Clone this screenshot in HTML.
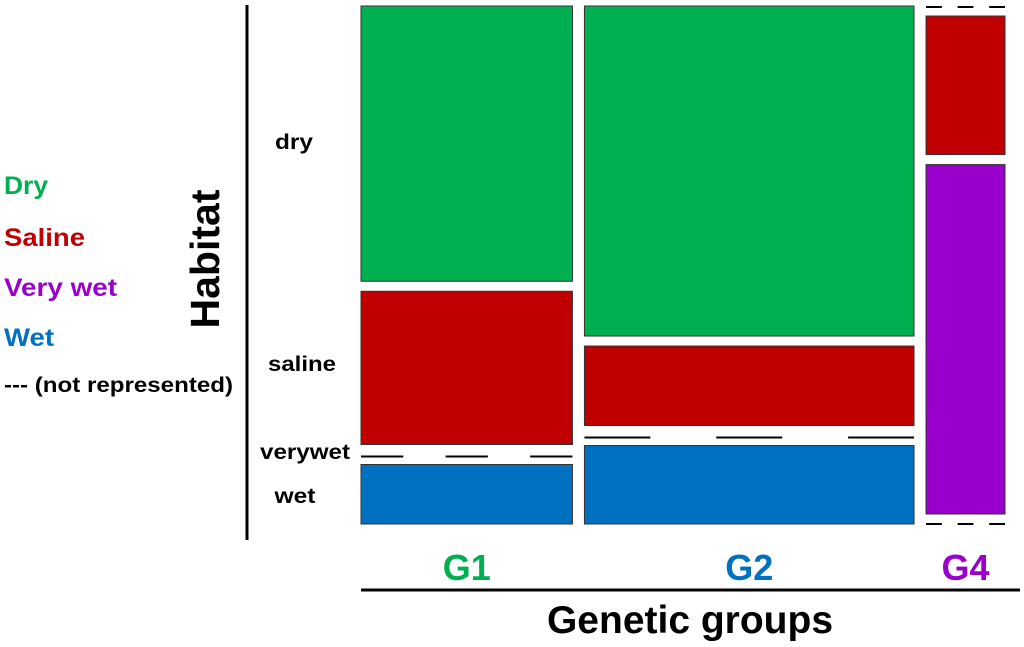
<!DOCTYPE html>
<html><head><meta charset="utf-8"><style>
body{margin:0;background:#fff;width:1024px;height:642px;overflow:hidden;font-family:"Liberation Sans",Arial,sans-serif;}
</style></head><body>
<svg id="chart" width="1024" height="642" xmlns="http://www.w3.org/2000/svg" font-family="Liberation Sans, Arial, sans-serif" font-weight="bold">
<g>
<text x="4" y="194" font-size="25" textLength="44" lengthAdjust="spacingAndGlyphs" fill="#00b050">Dry</text>
<text x="4" y="246" font-size="25" textLength="81" lengthAdjust="spacingAndGlyphs" fill="#c00000">Saline</text>
<text x="4" y="296" font-size="25" textLength="113" lengthAdjust="spacingAndGlyphs" fill="#9900cc">Very wet</text>
<text x="4" y="346" font-size="25" textLength="50" lengthAdjust="spacingAndGlyphs" fill="#0070c0">Wet</text>
<text x="4" y="392" font-size="21" textLength="229" lengthAdjust="spacingAndGlyphs" fill="#000">--- (not represented)</text>
</g>
<text transform="translate(219,259) rotate(-90)" text-anchor="middle" font-size="41" fill="#000">Habitat</text>
<line x1="247" y1="5" x2="247" y2="540" stroke="#000" stroke-width="3"/>
<line x1="361" y1="590" x2="1020" y2="590" stroke="#000" stroke-width="3"/>
<text x="690" y="633" text-anchor="middle" font-size="39" fill="#000">Genetic groups</text>
<g id="tiles"></g>
</svg>
<script>
const groups = ["G1", "G2", "G4"];
const habitats = ["dry", "saline", "verywet", "wet"];
const groupTotals = [34, 53, 12.7];
const dryVals = [273, 328, 0];
const salineVals = [152, 79, 138];
const verywetVals = [0, 0, 348];
const wetVals = [59, 78, 0];
const rowLabels = ["dry", "saline", "verywet", "wet"];
const habColors = ["#00b050", "#c00000", "#9900cc", "#0070c0"];
const groupColors = ["#00b050", "#0070c0", "#9900cc"];

const NS = "http://www.w3.org/2000/svg";
const X0 = 361, X1 = 1005, GAPX = 12, Y0 = 6, Y1 = 524, GAPY = 10;
const tiles = document.getElementById("tiles");
const series = [dryVals, salineVals, verywetVals, wetVals];
const sumT = groupTotals.reduce((a, b) => a + b, 0);
const usableW = (X1 - X0) - GAPX * (groups.length - 1);
const usableH = (Y1 - Y0) - GAPY * (habitats.length - 1);
function xScale(v) { return v / sumT * usableW; }
function mk(tag, attrs) { const e = document.createElementNS(NS, tag); for (const k in attrs) e.setAttribute(k, attrs[k]); tiles.appendChild(e); return e; }

let x = X0;
groups.forEach((g, gi) => {
  const w = xScale(groupTotals[gi]);
  const colTotal = series.reduce((a, s) => a + s[gi], 0);
  let y = Y0;
  habitats.forEach((h, hi) => {
    const v = series[hi][gi];
    if (v > 0) {
      const hh = v / colTotal * usableH;
      const r = mk("rect", { x: x, y: y, width: w, height: hh, fill: habColors[hi], stroke: "#333", "stroke-width": 1 });
      
      
      y += hh;
    } else {
      const ly = y + (hi === 0 ? 1 : (hi === habitats.length - 1 ? 0 : 2));
      const l = mk("line", { x1: x, x2: x + w, y1: ly, y2: ly, stroke: "#000", "stroke-width": 2, "stroke-dasharray": (w / 5) + " " + (w / 5) });
      
      
    }
    y += GAPY;
  });
  const t = mk("text", { x: x + w / 2, y: 580, "text-anchor": "middle", "font-size": 36, fill: groupColors[gi] });
  t.textContent = g;
  
  
  x += w + GAPX;
});

const rowY = [149, 371, 459, 503];
const rowX = [294, 302, 305, 295];
const rowW = [38, 68, 90, 41];
rowLabels.forEach((lab, i) => {
  const t = mk("text", { x: rowX[i], y: rowY[i], "text-anchor": "middle", "font-size": 21, textLength: rowW[i], lengthAdjust: "spacingAndGlyphs", fill: "#000" });
  t.textContent = lab;
  
  
});
</script>
</body></html>
